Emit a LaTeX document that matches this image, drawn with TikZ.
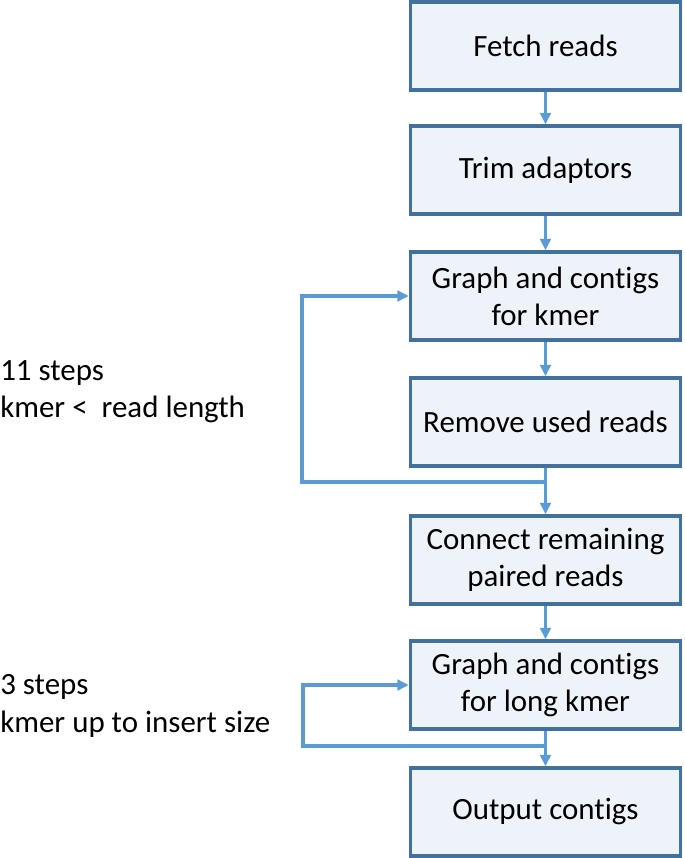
\documentclass[tikz,border=0pt]{standalone}
\usepackage{fontspec}
\setmainfont{Carlito}[Ligatures=NoCommon]
\usetikzlibrary{arrows.meta}
\definecolor{boxline}{HTML}{41719C}
\definecolor{boxfill}{HTML}{EEF3FA}
\definecolor{flowline}{HTML}{5B9BD5}
\tikzset{
  stepbox/.style={draw=boxline, fill=boxfill, line width=2.5pt, minimum width=6.75cm, minimum height=2.2cm, align=center, inner sep=0pt},
  flow/.style={draw=flowline, line width=2.4pt, -{Triangle[length=8pt,width=7.5pt]}},
  note/.style={anchor=west, align=left, inner sep=0pt}
}
\begin{document}
\begin{tikzpicture}[x=0.025cm, y=-0.025cm]
        \fontsize{22}{26.5}\selectfont
        \useasboundingbox (0,0) rectangle (685,858);

        % Caixas
        \node[stepbox] (fetch) at (545.5,46) {Fetch reads};
        \node[stepbox] (trim) at (545.5,170) {Trim adaptors};
        \node[stepbox] (graph) at (545.5,296) {Graph and contigs\\for kmer};
        \node[stepbox] (remove) at (545.5,422) {Remove used reads};
        \node[stepbox] (connect) at (545.5,560) {Connect remaining\\paired reads};
        \node[stepbox] (graphlong) at (545.5,685) {Graph and contigs\\for long kmer};
        \node[stepbox] (output) at (545.5,812) {Output contigs};

        % Setas
        \draw[flow] (fetch) -- (trim);
        \draw[flow] (trim) -- (graph);
        \draw[flow] (graph) -- (remove);
        \draw[flow] (remove) -- (connect);
        \draw[flow] (connect) -- (graphlong);
        \draw[flow] (graphlong) -- (output);

        % Lacos
        \coordinate (joina) at (545.5,482);
        \coordinate (loopa) at (302,482);
        \draw[flow] (joina) -- (loopa) |- (graph.west);
        \coordinate (joinb) at (545.5,746);
        \coordinate (loopb) at (303,746);
        \draw[flow] (joinb) -- (loopb) |- (graphlong.west);

        % Textos
        \node[note] (stepsa) at (0,392) {11 steps\\kmer <\ \ read length};
        \node[note] (stepsb) at (0,706) {3 steps\\kmer up to insert size};
\end{tikzpicture}
\end{document}
